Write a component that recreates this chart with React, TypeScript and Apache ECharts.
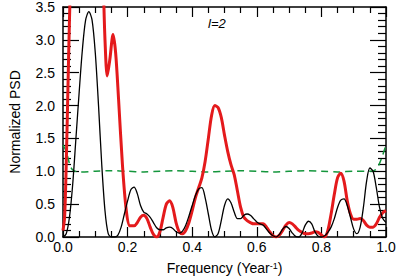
import React, { useEffect, useRef } from "react";
import * as echarts from "echarts";

const xTickLabels = ["0.0", "0.2", "0.4", "0.6", "0.8", "1.0"];
const yTickLabels = ["0.0", "0.5", "1.0", "1.5", "2.0", "2.5", "3.0", "3.5"];

// Black curve: [frequency, normalized PSD]
const blackCurve: number[][] = [
  [0.0, 0.0], [0.01, 0.05], [0.02, 0.3], [0.03, 0.8], [0.04, 1.5], [0.05, 2.2],
  [0.06, 2.85], [0.07, 3.3], [0.08, 3.43], [0.09, 3.3], [0.1, 2.8], [0.11, 2.0],
  [0.12, 1.1], [0.13, 0.4], [0.14, 0.05], [0.15, 0.0], [0.16, 0.0], [0.17, 0.03],
  [0.18, 0.15], [0.19, 0.35], [0.2, 0.55], [0.21, 0.72], [0.22, 0.76], [0.23, 0.66],
  [0.24, 0.48], [0.25, 0.38], [0.26, 0.35], [0.27, 0.3], [0.28, 0.22], [0.29, 0.14],
  [0.3, 0.11], [0.31, 0.11], [0.32, 0.14], [0.33, 0.15], [0.34, 0.13], [0.35, 0.08],
  [0.36, 0.06], [0.37, 0.09], [0.38, 0.18], [0.39, 0.32], [0.4, 0.48], [0.41, 0.63],
  [0.42, 0.73], [0.43, 0.75], [0.44, 0.6], [0.45, 0.35], [0.46, 0.1], [0.47, 0.0],
  [0.48, 0.05], [0.49, 0.25], [0.5, 0.48], [0.51, 0.58], [0.52, 0.52], [0.53, 0.38],
  [0.54, 0.28], [0.55, 0.28], [0.56, 0.33], [0.57, 0.35], [0.58, 0.33], [0.59, 0.28],
  [0.6, 0.23], [0.61, 0.2], [0.62, 0.18], [0.63, 0.12], [0.64, 0.06], [0.65, 0.02],
  [0.66, 0.0], [0.67, 0.04], [0.68, 0.12], [0.69, 0.16], [0.7, 0.13], [0.71, 0.06],
  [0.72, 0.01], [0.73, 0.0], [0.74, 0.06], [0.75, 0.18], [0.76, 0.24], [0.77, 0.2],
  [0.78, 0.08], [0.79, 0.01], [0.8, 0.0], [0.81, 0.02], [0.82, 0.07], [0.83, 0.15],
  [0.84, 0.28], [0.85, 0.45], [0.86, 0.56], [0.87, 0.58], [0.88, 0.48], [0.89, 0.3],
  [0.9, 0.12], [0.91, 0.05], [0.92, 0.15], [0.93, 0.45], [0.94, 0.85], [0.95, 1.05],
  [0.96, 1.0], [0.97, 0.75], [0.98, 0.45], [0.99, 0.28], [1.0, 0.22],
];

// Red curve: [frequency, normalized PSD] (values above 3.5 run off the plot)
const redCurve: number[][] = [
  [0.0, 0.1], [0.005, 0.3], [0.01, 1.1], [0.015, 2.2], [0.02, 3.3], [0.03, 5.0],
  [0.05, 7.0], [0.08, 8.0], [0.11, 6.0], [0.125, 3.8], [0.13, 3.0], [0.137, 2.45],
  [0.145, 2.7], [0.155, 3.08], [0.163, 2.8], [0.172, 2.1], [0.184, 1.1], [0.196, 0.4],
  [0.207, 0.17], [0.22, 0.17], [0.23, 0.22], [0.24, 0.3], [0.25, 0.33], [0.26, 0.28],
  [0.27, 0.15], [0.28, 0.04], [0.29, 0.0], [0.3, 0.08], [0.31, 0.3], [0.32, 0.5],
  [0.33, 0.55], [0.34, 0.45], [0.35, 0.22], [0.36, 0.08], [0.37, 0.05], [0.38, 0.1],
  [0.39, 0.22], [0.4, 0.4], [0.41, 0.6], [0.42, 0.75], [0.43, 0.9], [0.44, 1.15],
  [0.45, 1.5], [0.46, 1.85], [0.47, 2.0], [0.48, 1.97], [0.49, 1.82], [0.5, 1.55],
  [0.51, 1.3], [0.52, 1.1], [0.53, 0.95], [0.54, 0.7], [0.55, 0.45], [0.56, 0.3],
  [0.57, 0.25], [0.58, 0.22], [0.59, 0.2], [0.6, 0.2], [0.61, 0.2], [0.62, 0.2],
  [0.63, 0.15], [0.64, 0.08], [0.65, 0.02], [0.66, 0.0], [0.67, 0.03], [0.68, 0.1],
  [0.69, 0.18], [0.7, 0.22], [0.71, 0.2], [0.72, 0.15], [0.73, 0.1], [0.74, 0.07],
  [0.75, 0.05], [0.76, 0.05], [0.77, 0.06], [0.78, 0.08], [0.79, 0.07], [0.8, 0.03],
  [0.81, 0.0], [0.82, 0.1], [0.83, 0.35], [0.84, 0.65], [0.85, 0.9], [0.86, 0.97],
  [0.87, 0.85], [0.88, 0.55], [0.89, 0.35], [0.9, 0.27], [0.91, 0.27], [0.92, 0.28],
  [0.93, 0.25], [0.94, 0.18], [0.95, 0.15], [0.96, 0.15], [0.97, 0.2], [0.98, 0.3],
  [0.99, 0.37], [1.0, 0.4],
];

// Green dashed significance level: [frequency, level]
const greenCurve: number[][] = [
  [0.0, 1.4], [0.01, 1.3], [0.02, 1.12], [0.03, 1.02], [0.05, 0.99], [0.1, 1.0],
  [0.15, 1.01], [0.2, 1.0], [0.25, 0.99], [0.3, 1.0], [0.35, 1.01], [0.4, 1.0],
  [0.45, 0.99], [0.5, 1.0], [0.55, 1.01], [0.6, 1.0], [0.65, 0.99], [0.7, 1.0],
  [0.75, 1.01], [0.8, 1.0], [0.85, 0.99], [0.9, 1.0], [0.95, 1.0], [0.97, 1.03],
  [0.98, 1.12], [0.99, 1.25], [1.0, 1.4],
];

const FONT = "Liberation Sans, Arial, Helvetica, sans-serif";

export default function App() {
  const ref = useRef<HTMLDivElement>(null);
  useEffect(() => {
    if (!ref.current) return;
    const chart = echarts.init(ref.current, null, { renderer: "svg" });
    const axisLine = { show: true, onZero: false, lineStyle: { color: "#000", width: 1.5 } };
    const xCommon = {
      type: "value" as const,
      min: 0,
      max: 1,
      interval: 0.2,
      axisLine,
      splitLine: { show: false },
      axisTick: { show: true, inside: true, length: 10, lineStyle: { color: "#000", width: 1.2 } },
      minorTick: { show: true, splitNumber: 4, length: 6, lineStyle: { color: "#000", width: 1.2 } },
      minorSplitLine: { show: false },
    };
    const yCommon = {
      type: "value" as const,
      min: 0,
      max: 3.5,
      interval: 0.5,
      axisLine,
      splitLine: { show: false },
      axisTick: { show: true, inside: true, length: 16, lineStyle: { color: "#000", width: 1.2 } },
      minorTick: { show: true, splitNumber: 5, length: 8, lineStyle: { color: "#000", width: 1.2 } },
      minorSplitLine: { show: false },
    };
    chart.setOption({
      animation: false,
      backgroundColor: "#fff",
      textStyle: { fontFamily: FONT },
      grid: { left: 53, right: 13, top: 7, bottom: 40, containLabel: false },
      xAxis: [
        {
          ...xCommon,
          position: "bottom",
          axisLabel: {
            show: true,
            margin: 3,
            fontSize: 14,
            color: "#000",
            fontFamily: FONT,
            formatter: (v: number) => xTickLabels[Math.round(v / 0.2)] ?? "",
          },
          name: "Frequency (Year{sup|-1})",
          nameLocation: "middle",
          nameGap: 24,
          nameTextStyle: {
            fontSize: 14,
            color: "#000",
            fontFamily: FONT,
            rich: { sup: { fontSize: 9, verticalAlign: "top", color: "#000", fontFamily: FONT } },
          },
        },
        { ...xCommon, position: "top", axisLabel: { show: false } },
      ],
      yAxis: [
        {
          ...yCommon,
          position: "left",
          axisLabel: {
            show: true,
            margin: 8,
            fontSize: 14,
            color: "#000",
            fontFamily: FONT,
            formatter: (v: number) => yTickLabels[Math.round(v / 0.5)] ?? "",
          },
          name: "Normalized PSD",
          nameLocation: "middle",
          nameGap: 41,
          nameTextStyle: { fontSize: 14, color: "#000", fontFamily: FONT },
        },
        { ...yCommon, position: "right", axisLabel: { show: false } },
      ],
      graphic: [
        {
          type: "text",
          left: 208,
          top: 17,
          style: { text: "l=2", font: `italic 13px ${FONT}`, fill: "#000" },
        },
      ],
      series: [
        {
          type: "line",
          data: greenCurve,
          symbol: "none",
          smooth: 0.3,
          lineStyle: { color: "#14963c", width: 1.5, type: [7, 5] },
          z: 2,
        },
        {
          type: "line",
          data: redCurve,
          symbol: "none",
          smooth: 0.3,
          clip: true,
          lineStyle: { color: "#e41a1c", width: 3 },
          z: 3,
        },
        {
          type: "line",
          data: blackCurve,
          symbol: "none",
          smooth: 0.3,
          clip: true,
          lineStyle: { color: "#000", width: 1.3 },
          z: 4,
        },
      ],
    });
    return () => chart.dispose();
  }, []);
  return (
    <div
      ref={ref}
      style={{ position: "absolute", left: 0, top: 0, width: 399, height: 280 }}
    />
  );
}
